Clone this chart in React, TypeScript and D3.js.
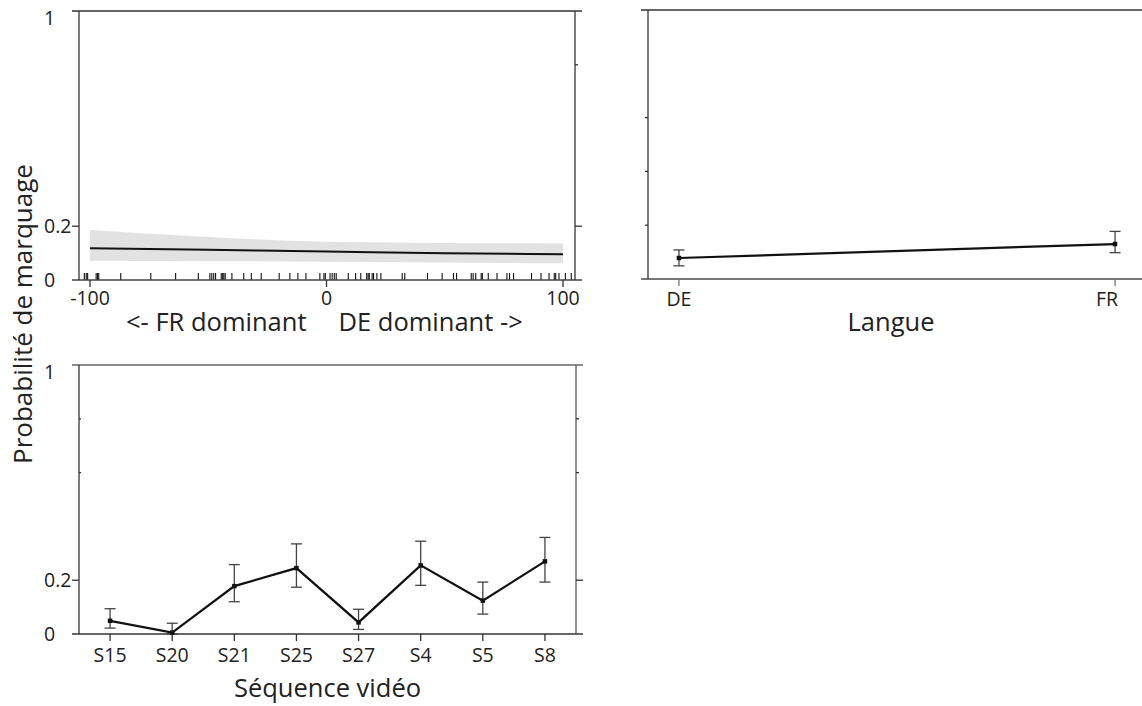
import React from "react";
import * as d3 from "d3";

// Effect of language dominance (continuous predictor) with 95% band
const dominance = [-100, -50, 0, 50, 100];
const domFit = [0.118, 0.112, 0.106, 0.099, 0.096];
const domLower = [0.072, 0.070, 0.068, 0.065, 0.062];
const domUpper = [0.186, 0.160, 0.142, 0.138, 0.136];

// Observed dominance scores (rug)
const rugValues = [
  -102.4, -101.6, -101, -97.4, -96.8, -96.3, -87, -74.3, -63.8, -54.2,
  -49.3, -48.5, -47.7, -46.9, -44.5, -43.9, -43.4, -42.8, -40, -35, -31.8, -27.6,
  -20, -15.5, -12.1, -8.7, -2.8, -1.1, -0.5,
  1.5, 2.4, 3.3, 4.1, 9.2, 12.3, 14.5, 17, 17.6, 18.1, 19.3, 19.9, 21.3, 23,
  32, 33.1, 42.7, 48.9, 53.7, 55, 61.2, 62, 63.1, 65.4, 65.9, 68.4, 72.1,
  76.3, 77.4, 79.1, 86.7, 90.7, 94.1, 96.3, 96.9, 98.3, 101, 103.5,
];
const domTicks = [-100, 0, 100];
const domTitleLeft = "<- FR dominant";
const domTitleRight = "DE dominant ->";

// Effect of language
const languages = ["DE", "FR"];
const langFit = [0.078, 0.13];
const langLower = [0.049, 0.098];
const langUpper = [0.108, 0.177];

// Effect of video sequence
const sequences = ["S15", "S20", "S21", "S25", "S27", "S4", "S5", "S8"];
const seqFit = [0.049, 0.005, 0.178, 0.245, 0.043, 0.255, 0.124, 0.27];
const seqLower = [0.022, 0.001, 0.12, 0.174, 0.017, 0.181, 0.074, 0.193];
const seqUpper = [0.094, 0.04, 0.258, 0.335, 0.092, 0.345, 0.193, 0.359];

const yLabelTicks = [0, 0.2, 1];

const FONT = '"Open Sans", "Noto Sans", "DejaVu Sans", sans-serif';
const INK = "#111";
const AXIS = "#333";
const TICK_FS = 19.5;
const TITLE_FS = 25.5;

type PointsProps = {
  x: (k: string) => number;
  y: d3.ScaleLinear<number, number>;
  cats: string[];
  fit: number[];
  lower: number[];
  upper: number[];
};

function ErrorLine({ x, y, cats, fit, lower, upper }: PointsProps) {
  const line = d3
    .line<number>()
    .x((_, i) => x(cats[i]))
    .y((v) => y(v));
  const cap = 5.5;
  const sq = 4.5;
  return (
    <g>
      <path d={line(fit) || ""} fill="none" stroke={INK} strokeWidth={2.2} />
      {cats.map((c, i) => {
        const cx = x(c);
        return (
          <g key={c}>
            <line x1={cx} x2={cx} y1={y(lower[i])} y2={y(upper[i])} stroke="#444" strokeWidth={1.3} />
            <line x1={cx - cap} x2={cx + cap} y1={y(upper[i])} y2={y(upper[i])} stroke="#444" strokeWidth={1.3} />
            <line x1={cx - cap} x2={cx + cap} y1={y(lower[i])} y2={y(lower[i])} stroke="#444" strokeWidth={1.3} />
            <rect x={cx - sq / 2} y={y(fit[i]) - sq / 2} width={sq} height={sq} fill={INK} />
          </g>
        );
      })}
    </g>
  );
}

// y tick labels, kept inside the drawing area near the top edge
function YLabels({ y }: { y: d3.ScaleLinear<number, number> }) {
  const top = Math.min(...y.range());
  return (
    <g fontSize={TICK_FS} fill="#222">
      {yLabelTicks.map((t) => (
        <text key={t} x={44} y={Math.max(y(t), top + 7)} dy="0.35em">
          {t}
        </text>
      ))}
    </g>
  );
}

export default function App() {
  // ---------- top-left panel: dominance ----------
  const xD = d3.scaleLinear().domain([-100, 100]).range([90, 563]);
  const yD = d3.scaleLinear().domain([0, 1]).range([280, 11]);
  const dL = 79, dR = 575;

  const band = d3
    .area<number>()
    .x((_, i) => xD(dominance[i]))
    .y0((_, i) => yD(domLower[i]))
    .y1((_, i) => yD(domUpper[i]))
    .curve(d3.curveMonotoneX);
  const fitLine = d3
    .line<number>()
    .x((_, i) => xD(dominance[i]))
    .y((v) => yD(v))
    .curve(d3.curveMonotoneX);

  // ---------- top-right panel: language ----------
  const xL = d3.scalePoint<string>().domain(languages).range([648, 1146]).padding(0.071);
  const yL = d3.scaleLinear().domain([0, 1]).range([279, 10]);
  const lL = 648;

  // ---------- bottom panel: sequence ----------
  const xS = d3.scalePoint<string>().domain(sequences).range([79, 576]).padding(0.5);
  const yS = d3.scaleLinear().domain([0, 1]).range([634, 365]);
  const sL = 79, sR = 576;

  const tickLen = 7;

  return (
    <svg
      width={1142}
      height={706}
      style={{ position: "absolute", left: 0, top: 0, background: "#fff" }}
      fontFamily={FONT}
    >
      {/* ===== dominance panel ===== */}
      <path d={band(domFit) || ""} fill="#e2e2e2" />
      <path d={fitLine(domFit) || ""} fill="none" stroke={INK} strokeWidth={2} />
      {rugValues.map((v, i) => (
        <line key={i} x1={xD(v)} x2={xD(v)} y1={yD(0) - 7} y2={yD(0)} stroke={INK} strokeWidth={1.1} />
      ))}
      <g stroke={AXIS} strokeWidth={1.3}>
        <line x1={dL - tickLen} x2={dR + tickLen} y1={yD(1)} y2={yD(1)} />
        <line x1={dL - tickLen} x2={dR + tickLen} y1={yD(0)} y2={yD(0)} stroke="#444" strokeWidth={1.6} />
        <line x1={dL} x2={dL} y1={yD(1)} y2={yD(0)} />
        <line x1={dR} x2={dR} y1={yD(1)} y2={yD(0)} />
        <line x1={dL - tickLen} x2={dL} y1={yD(0.2)} y2={yD(0.2)} />
        <line x1={dR} x2={dR + tickLen} y1={yD(0.2)} y2={yD(0.2)} />
        <line x1={dR} x2={dR + 3} y1={yD(0.8)} y2={yD(0.8)} />
        {domTicks.map((t) => (
          <line key={t} x1={xD(t)} x2={xD(t)} y1={yD(0)} y2={yD(0) + tickLen} />
        ))}
      </g>
      <YLabels y={yD} />
      <g fontSize={TICK_FS} fill="#222">
        {domTicks.map((t) => (
          <text key={t} x={xD(t)} y={305} textAnchor="middle">
            {t}
          </text>
        ))}
      </g>
      <g fontSize={TITLE_FS} fill="#222">
        <text x={xD(0) - 20} y={331} textAnchor="end">
          {domTitleLeft}
        </text>
        <text x={xD(0) + 12} y={331} textAnchor="start">
          {domTitleRight}
        </text>
      </g>

      {/* ===== language panel ===== */}
      <g stroke={AXIS} strokeWidth={1.3}>
        <line x1={lL - tickLen} x2={1142} y1={yL(1)} y2={yL(1)} />
        <line x1={lL - tickLen} x2={1142} y1={yL(0)} y2={yL(0)} stroke="#777" strokeWidth={1.8} />
        <line x1={lL} x2={lL} y1={yL(1)} y2={yL(0)} />
        {[0.2, 0.4, 0.6].map((t) => (
          <line key={t} x1={lL - 3} x2={lL} y1={yL(t)} y2={yL(t)} />
        ))}
        {languages.map((c) => (
          <line key={c} x1={xL(c)!} x2={xL(c)!} y1={yL(0)} y2={yL(0) + tickLen} stroke="#777" />
        ))}
      </g>
      <ErrorLine x={(k) => xL(k)!} y={yL} cats={languages} fit={langFit} lower={langLower} upper={langUpper} />
      <g fontSize={TICK_FS} fill="#222">
        {languages.map((c, i) => (
          <text key={c} x={xL(c)!} dx={i === languages.length - 1 ? -8 : 0} y={306} textAnchor="middle">
            {c}
          </text>
        ))}
      </g>
      <text
        x={((xL("DE") as number) + (xL("FR") as number)) / 2 - 6}
        y={331}
        textAnchor="middle"
        fontSize={TITLE_FS}
        fill="#222"
      >
        Langue
      </text>

      {/* ===== sequence panel ===== */}
      <g stroke={AXIS} strokeWidth={1.3}>
        <line x1={sL - tickLen} x2={sR + tickLen} y1={yS(1)} y2={yS(1)} stroke="#666" />
        <line x1={sL - tickLen} x2={sR + tickLen} y1={yS(0)} y2={yS(0)} />
        <line x1={sL} x2={sL} y1={yS(1)} y2={yS(0)} />
        <line x1={sR} x2={sR} y1={yS(1)} y2={yS(0)} stroke="#555" />
        <line x1={sL - tickLen} x2={sL} y1={yS(0.2)} y2={yS(0.2)} />
        <line x1={sR} x2={sR + tickLen} y1={yS(0.2)} y2={yS(0.2)} />
        {[0.6, 0.8].map((t) => (
          <g key={t}>
            <line x1={sL} x2={sL + 2} y1={yS(t)} y2={yS(t)} />
            <line x1={sR} x2={sR + 3} y1={yS(t)} y2={yS(t)} />
          </g>
        ))}
        {sequences.map((c) => (
          <line key={c} x1={xS(c)!} x2={xS(c)!} y1={yS(0)} y2={yS(0) + tickLen} />
        ))}
      </g>
      <ErrorLine x={(k) => xS(k)!} y={yS} cats={sequences} fit={seqFit} lower={seqLower} upper={seqUpper} />
      <YLabels y={yS} />
      <g fontSize={TICK_FS} fill="#222">
        {sequences.map((c) => (
          <text key={c} x={xS(c)!} y={662} textAnchor="middle">
            {c}
          </text>
        ))}
      </g>
      <text x={(sL + sR) / 2} y={697} textAnchor="middle" fontSize={TITLE_FS} fill="#222">
        Séquence vidéo
      </text>

      {/* shared y title */}
      <text
        transform="translate(32,314) rotate(-90)"
        textAnchor="middle"
        fontSize={26}
        fill="#222"
      >
        Probabilité de marquage
      </text>
    </svg>
  );
}
